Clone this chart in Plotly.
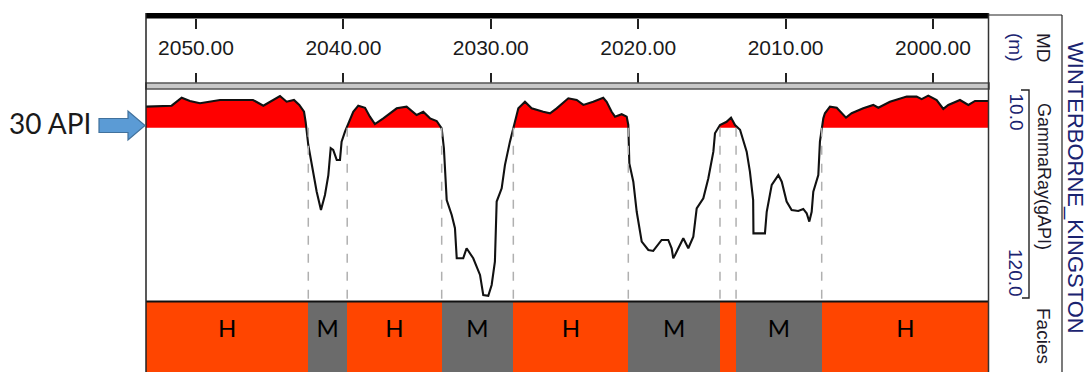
import plotly.graph_objects as go

# ---------------- data ----------------
depth_m = [2053.39, 2051.65, 2050.97, 2050.41, 2049.73, 2048.37, 2046.13, 2045.43, 2044.30, 2043.85,
           2043.35, 2042.99, 2042.67, 2042.56, 2042.38, 2042.04, 2041.81, 2041.52, 2041.25, 2041.02,
           2040.86, 2040.69, 2040.45, 2040.23, 2040.12, 2039.89, 2039.67, 2039.33, 2038.99, 2038.53,
           2038.20, 2037.86, 2037.29, 2036.38, 2035.71, 2035.03, 2034.58, 2034.12, 2033.67, 2033.33,
           2033.18, 2032.99, 2032.65, 2032.43, 2032.31, 2031.87, 2031.64, 2031.19, 2030.73, 2030.51,
           2030.17, 2029.94, 2029.72, 2029.60, 2029.26, 2029.04, 2028.70, 2028.43, 2028.13, 2027.68,
           2027.23, 2026.44, 2025.98, 2025.53, 2024.74, 2024.17, 2023.72, 2023.05, 2022.37, 2022.14,
           2021.80, 2021.57, 2021.12, 2020.78, 2020.67, 2020.60, 2020.33, 2020.10, 2019.76, 2019.31,
           2018.98, 2018.41, 2017.96, 2017.73, 2017.62, 2017.50, 2017.16, 2016.94, 2016.60, 2016.26,
           2016.03, 2015.58, 2015.24, 2014.90, 2014.79, 2014.45, 2014.00, 2013.70, 2013.43, 2013.09,
           2012.64, 2012.42, 2012.20, 2012.18, 2011.40, 2011.28, 2010.94, 2010.49, 2010.26, 2009.93,
           2009.59, 2009.14, 2008.80, 2008.57, 2008.39, 2008.23, 2008.12, 2007.78, 2007.67, 2007.44,
           2007.33, 2006.99, 2006.53, 2006.19, 2005.90, 2005.52, 2004.73, 2004.05, 2003.71, 2002.92,
           2001.78, 2001.11, 2000.77, 2000.32, 1999.75, 1999.30, 1998.96, 1998.17, 1997.60, 1997.15,
           1996.25]
gamma_api = [18.8, 18.3, 14.1, 15.8, 17.0, 15.3, 15.3, 18.3, 13.2, 16.2,
             15.3, 17.9, 21.5, 26.8, 39.1, 53.2, 63.8, 73.5, 65.5, 55.0,
             40.8, 41.7, 47.0, 47.0, 37.3, 32.0, 27.6, 21.5, 18.3, 19.4,
             24.1, 28.0, 25.0, 19.7, 18.8, 23.2, 21.5, 25.0, 26.4, 30.3,
             40.8, 68.2, 76.1, 83.1, 99.0, 99.0, 93.7, 99.0, 107.8, 118.4,
             118.8, 113.1, 100.8, 69.0, 62.0, 49.7, 37.3, 28.5, 19.7, 16.2,
             19.7, 21.5, 22.3, 19.7, 14.4, 15.3, 17.9, 16.2, 14.1, 16.2,
             21.5, 24.1, 22.8, 24.1, 28.5, 48.8, 58.5, 74.4, 90.2, 94.6,
             95.1, 89.3, 89.3, 93.7, 99.0, 97.3, 92.0, 88.4, 93.7, 87.6,
             72.6, 67.3, 56.7, 42.6, 32.9, 28.5, 26.8, 24.6, 28.5, 31.0,
             42.6, 53.2, 68.2, 85.8, 85.8, 74.4, 60.2, 55.0, 58.5, 69.0,
             73.5, 74.0, 72.9, 75.2, 79.6, 74.4, 63.8, 55.0, 37.3, 25.0,
             22.3, 18.8, 19.4, 22.3, 24.6, 22.3, 19.7, 17.9, 19.4, 16.2,
             13.5, 13.5, 14.8, 13.0, 15.3, 20.0, 17.9, 15.3, 17.9, 15.8,
             15.8]

facies_top = [2053.39, 2042.38, 2039.74, 2033.33, 2028.47, 2020.67, 2014.45, 2013.36, 2007.55]
facies_base = [2042.38, 2039.74, 2033.33, 2028.47, 2020.67, 2014.45, 2013.36, 2007.55, 1996.20]
facies_code = ["H", "M", "H", "M", "H", "M", "H", "M", "H"]
facies_label = ["H", "M", "H", "M", "H", "M", "", "M", "H"]

cutoff_api = 30.0
md_ticks = [2050, 2040, 2030, 2020, 2010, 2000]
md_range = [2053.39, 1996.20]
gr_scale = [10.0, 120.0]
well_name = "WINTERBORNE_KINGSTON"

# ---------------- styles ----------------
W, H = 1090, 372
FACIES_COLORS = {"H": "#ff4500", "M": "#6b6b6b"}


def px(x):
    return x / W


def py(y):
    return 1 - y / H


# GR axis: 10 at y=90px, 120 at y=298px, panel 88..300px
gpp = (gr_scale[1] - gr_scale[0]) / (298 - 90)
gr_axis_range = [gr_scale[1] + (300 - 298) * gpp, gr_scale[0] - (90 - 88) * gpp]

# fill polygon pieces (curve clipped at cutoff, with crossings inserted)
fx, fy = [], []
for i in range(len(depth_m)):
    if i > 0:
        g0, g1 = gamma_api[i - 1], gamma_api[i]
        if (g0 - cutoff_api) * (g1 - cutoff_api) < 0:
            t = (cutoff_api - g0) / (g1 - g0)
            fx.append(depth_m[i - 1] + t * (depth_m[i] - depth_m[i - 1]))
            fy.append(cutoff_api)
    fx.append(depth_m[i])
    fy.append(min(gamma_api[i], cutoff_api))

fig = go.Figure()

# baseline for fill
fig.add_trace(go.Scatter(x=fx, y=[cutoff_api] * len(fx), mode="lines",
                         line=dict(width=0, color="rgba(0,0,0,0)"), hoverinfo="skip",
                         xaxis="x", yaxis="y"))
fig.add_trace(go.Scatter(x=fx, y=fy, mode="lines", fill="tonexty",
                         fillcolor="#ff0000", line=dict(width=0, color="rgba(0,0,0,0)"),
                         hoverinfo="skip", xaxis="x", yaxis="y"))
# curve
fig.add_trace(go.Scatter(x=depth_m, y=gamma_api, mode="lines",
                         line=dict(color="#111111", width=2.1), xaxis="x", yaxis="y"))

# facies bars
mids = [(a + b) / 2 for a, b in zip(facies_top, facies_base)]
widths = [abs(a - b) for a, b in zip(facies_top, facies_base)]
fig.add_trace(go.Bar(x=mids, y=[1] * len(mids), width=widths, base=0,
                     marker=dict(color=[FACIES_COLORS[c] for c in facies_code], line=dict(width=0)),
                     xaxis="x2", yaxis="y2", hoverinfo="skip"))
fig.add_trace(go.Scatter(x=mids, y=[0.58] * len(mids), mode="text", text=facies_label,
                         textfont=dict(family="Lato", size=24, color="#000000"),
                         xaxis="x2", yaxis="y2"))

# dashed boundary lines
shapes = []
for b in facies_base[:-1]:
    shapes.append(dict(type="line", xref="x", yref="y", x0=b, x1=b,
                       y0=cutoff_api, y1=gr_axis_range[0],
                       line=dict(color="#b0b0b0", width=1.5, dash="dash")))

# frame elements
shapes += [
    dict(type="rect", xref="paper", yref="paper", x0=px(146), x1=px(989), y0=py(18.5), y1=py(13),
         fillcolor="#000000", line=dict(width=0)),
    dict(type="rect", xref="paper", yref="paper", x0=px(146), x1=px(989), y0=py(89), y1=py(83),
         fillcolor="#c8c8c8", line=dict(color="#555555", width=1.6)),
    dict(type="line", xref="paper", yref="paper", x0=px(146), x1=px(989), y0=py(301.5), y1=py(301.5),
         line=dict(color="#111111", width=2)),
    dict(type="line", xref="paper", yref="paper", x0=px(146), x1=px(146), y0=py(13), y1=0,
         line=dict(color="#222222", width=1.5)),
    dict(type="line", xref="paper", yref="paper", x0=px(988.5), x1=px(988.5), y0=py(13), y1=0,
         line=dict(color="#333333", width=1.5)),
    dict(type="line", xref="paper", yref="paper", x0=px(988), x1=px(1062), y0=py(15), y1=py(15),
         line=dict(color="#222222", width=1.2)),
    dict(type="line", xref="paper", yref="paper", x0=px(1062), x1=px(1062), y0=py(15), y1=0,
         line=dict(color="#222222", width=1.2)),
    dict(type="path", xref="paper", yref="paper",
         path=f"M {px(1021)} {py(90)} L {px(1029)} {py(90)} L {px(1029)} {py(298)} L {px(1022)} {py(298)}",
         line=dict(color="#222222", width=1.4)),
    # block arrow pointing at the 30 API cut-off
    dict(type="path", xref="paper", yref="paper",
         path=(f"M {px(99)} {py(118.5)} L {px(128)} {py(118.5)} L {px(128)} {py(111)} "
               f"L {px(145)} {py(125.5)} L {px(128)} {py(140)} L {px(128)} {py(132.5)} "
               f"L {px(99)} {py(132.5)} Z"),
         fillcolor="#5b9bd5", line=dict(color="#41719c", width=1.2)),
]

RC = "#1a2370"
DK = "#1e1a2a"
annotations = [
    dict(text="30 API", x=px(50), y=py(123), xref="paper", yref="paper", showarrow=False,
         font=dict(family="Lato", size=28, color="#1a1a1a"), xanchor="center", yanchor="middle"),
    dict(text="MD", x=px(1044), y=py(31), xref="paper", yref="paper", showarrow=False, textangle=90,
         font=dict(family="Liberation Sans", size=19, color=DK), xanchor="center", yanchor="top"),
    dict(text="(m)", x=px(1016), y=py(31), xref="paper", yref="paper", showarrow=False, textangle=90,
         font=dict(family="Liberation Sans", size=19, color=RC), xanchor="center", yanchor="top"),
    dict(text="GammaRay(gAPI)", x=px(1044), y=py(176), xref="paper", yref="paper", showarrow=False,
         textangle=90, font=dict(family="Liberation Sans", size=18, color=DK),
         xanchor="center", yanchor="middle"),
    dict(text=f"{gr_scale[0]:.1f}", x=px(1016), y=py(91), xref="paper", yref="paper", showarrow=False,
         textangle=90, font=dict(family="Liberation Sans", size=19, color=RC),
         xanchor="center", yanchor="top"),
    dict(text=f"{gr_scale[1]:.1f}", x=px(1016), y=py(299), xref="paper", yref="paper", showarrow=False,
         textangle=90, font=dict(family="Liberation Sans", size=19, color=RC),
         xanchor="center", yanchor="bottom"),
    dict(text="Facies", x=px(1044), y=py(336), xref="paper", yref="paper", showarrow=False,
         textangle=90, font=dict(family="Liberation Sans", size=19, color=DK),
         xanchor="center", yanchor="middle"),
    dict(text=well_name, x=px(1076), y=py(188), xref="paper", yref="paper", showarrow=False,
         textangle=90, font=dict(family="Liberation Sans", size=22, color=RC),
         xanchor="center", yanchor="middle"),
]

xdom = [px(146), px(989)]
fig.update_layout(
    width=W, height=H, margin=dict(l=0, r=0, t=0, b=0, pad=0),
    paper_bgcolor="white", plot_bgcolor="white", showlegend=False,
    bargap=0,
    xaxis=dict(domain=xdom, range=md_range, anchor="y", showticklabels=False, ticks="",
               showgrid=False, zeroline=False, showline=False),
    yaxis=dict(domain=[py(300), py(88)], range=gr_axis_range, showticklabels=False, ticks="",
               showgrid=False, zeroline=False, showline=False),
    xaxis2=dict(domain=xdom, range=md_range, anchor="y2", matches="x", showticklabels=False,
                ticks="", showgrid=False, zeroline=False, showline=False),
    yaxis2=dict(domain=[0, py(302)], range=[0, 1], showticklabels=False, ticks="",
                showgrid=False, zeroline=False, showline=False),
    xaxis3=dict(domain=xdom, range=md_range, anchor="y3", matches="x", side="bottom",
                tickvals=md_ticks, ticktext=[f"{v:.2f}" for v in md_ticks],
                ticks="inside", ticklen=10, tickwidth=2, tickcolor="#222222", mirror="ticks",
                ticklabelposition="inside", ticklabelstandoff=15,
                tickfont=dict(family="Liberation Sans", size=21, color="#1a1a1a"),
                showgrid=False, zeroline=False, showline=False),
    yaxis3=dict(domain=[py(83), py(18.5)], range=[0, 1], showticklabels=False, ticks="",
                showgrid=False, zeroline=False, showline=False),
    shapes=shapes, annotations=annotations,
)
# dummy trace so header subplot exists
fig.add_trace(go.Scatter(x=[md_range[0]], y=[0.5], mode="markers", marker=dict(opacity=0),
                         xaxis="x3", yaxis="y3", hoverinfo="skip"))

fig.write_html("out.html")
